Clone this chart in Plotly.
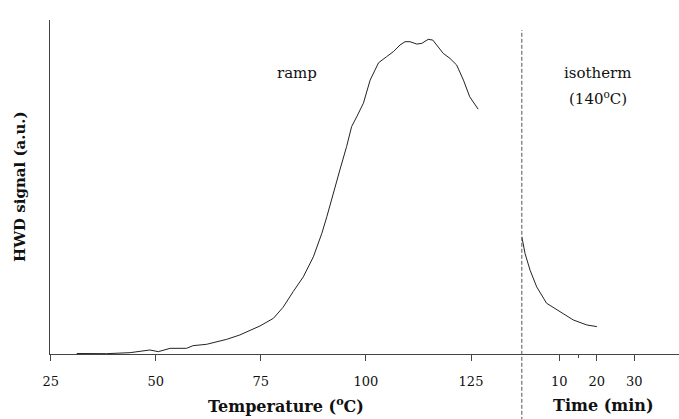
import plotly.graph_objects as go

# Ramp segment: temperature (°C) vs HWD signal (a.u.)
ramp_temp = [31.2, 38.3, 43.9, 48.6, 50.6, 53.4, 57.3, 58.9, 62.1, 66.9, 70.0, 74.8, 78.0,
             80.3, 82.7, 85.1, 87.5, 89.5, 90.7, 92.2, 93.8, 95.4, 96.6, 97.8, 99.4, 101.0,
             103.0, 104.9, 106.5, 108.1, 109.3, 110.5, 112.1, 113.3, 114.8, 115.9, 117.2,
             118.4, 120.0, 121.6, 123.2, 124.7, 126.7]
ramp_signal = [0.15, 0.1, 0.4, 1.2, 0.7, 1.7, 1.7, 2.5, 2.9, 4.4, 5.7, 8.4, 10.7,
               14.0, 18.7, 23.1, 29.1, 36.1, 41.1, 48.1, 55.1, 62.1, 68.1, 71.0, 75.1, 82.0,
               87.2, 89.0, 90.5, 92.5, 93.5, 93.5, 92.8, 93.0, 94.2, 94.0, 92.0,
               90.0, 88.5, 86.5, 82.0, 77.0, 73.3]

# Isotherm segment (140 °C): time (min) vs HWD signal (a.u.)
iso_time = [0, 0.86, 2.2, 3.97, 6.6, 10.2, 13.7, 17.3, 20.0]
iso_signal = [35.1, 30.1, 25.1, 20.1, 15.2, 12.7, 10.2, 8.7, 8.2]

temp_ticks = [25, 50, 75, 100, 125]
time_ticks = [10, 20, 30]

FONT = "DejaVu Serif"
INK = "#111111"
SPLIT = 0.7501

fig = go.Figure()
fig.add_trace(go.Scatter(x=ramp_temp, y=ramp_signal, mode="lines",
                         line=dict(color="#222222", width=1), xaxis="x", yaxis="y",
                         showlegend=False, hoverinfo="skip"))
fig.add_trace(go.Scatter(x=iso_time, y=iso_signal, mode="lines",
                         line=dict(color="#222222", width=1), xaxis="x2", yaxis="y",
                         showlegend=False, hoverinfo="skip"))

axis_common = dict(showgrid=False, zeroline=False, showline=True, linecolor="#444444",
                   linewidth=1, ticks="outside", ticklen=6, tickcolor="#444444",
                   tickfont=dict(family=FONT, size=13, color=INK))

fig.update_layout(
    width=679, height=419,
    margin=dict(l=50, r=0, t=20, b=65),
    paper_bgcolor="white", plot_bgcolor="white",
    xaxis=dict(domain=[0, SPLIT], range=[24.83, 137.09], tickmode="array",
               tickvals=temp_ticks, anchor="y", ticklabelstandoff=9, **axis_common),
    xaxis2=dict(domain=[SPLIT, 1], range=[0, 41.9], tickmode="array",
                tickvals=time_ticks, anchor="y", ticklabelstandoff=9,
                minor=dict(tickmode="array", tickvals=[15], ticks="outside", ticklen=3,
                           tickcolor="#444444"),
                **axis_common),
    yaxis=dict(range=[0, 100], showgrid=False, zeroline=False, showline=True,
               linecolor="#444444", linewidth=1, showticklabels=False, ticks=""),
)

fig.add_shape(type="line", xref="paper", yref="paper", x0=SPLIT, x1=SPLIT,
              y0=-0.2, y1=0.97, line=dict(color="#555555", width=1, dash="4px,2px"))

annots = [
    dict(text="ramp", x=83.6, y=84.1, xref="x", yref="y"),
    dict(text="isotherm", x=20.3, y=84.1, xref="x2", yref="y"),
    dict(text="(140<sup>o</sup>C)", x=20.3, y=76.6, xref="x2", yref="y"),
]
for a in annots:
    fig.add_annotation(text=a["text"], x=a["x"], y=a["y"], xref=a["xref"], yref=a["yref"],
                       showarrow=False, xanchor="center", yanchor="middle",
                       font=dict(family=FONT, size=15, color=INK))

fig.add_annotation(text="<b>Temperature (<sup>o</sup>C)</b>", x=SPLIT / 2, y=-51 / 334,
                   xref="paper", yref="paper", showarrow=False, xanchor="center",
                   yanchor="middle", font=dict(family=FONT, size=16, color=INK))
fig.add_annotation(text="<b>Time (min)</b>", x=(SPLIT + 1) / 2 + 3 / 629, y=-51 / 334,
                   xref="paper", yref="paper", showarrow=False, xanchor="center",
                   yanchor="middle", font=dict(family=FONT, size=16, color=INK))
fig.add_annotation(text="<b>HWD signal (a.u.)</b>", x=-30 / 629, y=0.5, textangle=-90,
                   xref="paper", yref="paper", showarrow=False, xanchor="center",
                   yanchor="middle", font=dict(family=FONT, size=15, color=INK))

fig.write_html("out.html")
